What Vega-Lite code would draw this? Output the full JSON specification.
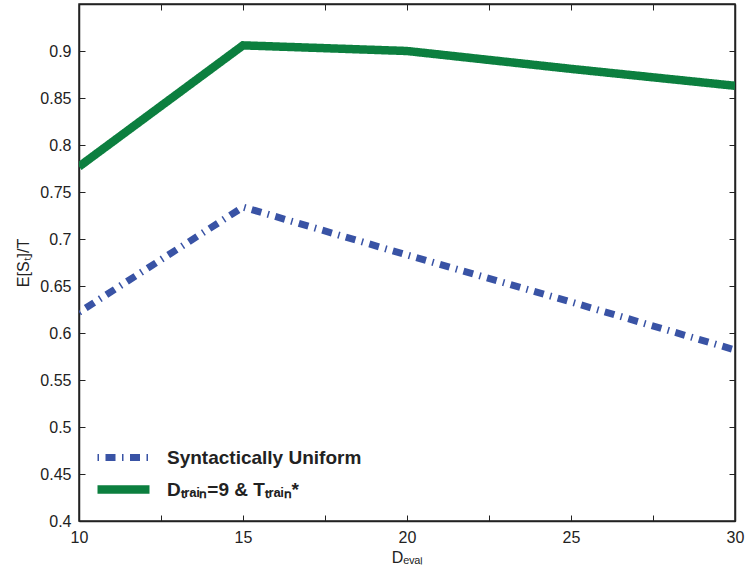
{
  "$schema": "https://vega.github.io/schema/vega-lite/v6.json",
  "width": 656,
  "height": 517,
  "autosize": {"type": "none"},
  "padding": {"left": 79, "top": 4, "right": 11, "bottom": 53},
  "background": "white",
  "config": {
    "view": {"stroke": "#222", "strokeWidth": 1.5},
    "font": "Liberation Sans",
    "axis": {"grid": false, "domainColor": "#222", "domainWidth": 1.5, "tickColor": "#222", "tickWidth": 1, "labelColor": "#222", "labelFontSize": 16, "labelFont": "Liberation Sans", "titleFont": "Liberation Sans", "titleFontWeight": "normal", "titleFontSize": 16, "titleColor": "#222", "labelFlush": false},
    "legend": {"orient": "bottom-left", "offset": 14, "symbolType": "M-1,0H3", "symbolSize": 676, "labelFontSize": 19, "labelFontWeight": "bold", "labelColor": "#222", "labelFont": "Liberation Sans", "labelOffset": 39, "labelLimit": 400, "rowPadding": -4, "padding": 0}
  },
  "data": {"values": [
    {"D_eval": 10, "value": 0.622, "series": "Syntactically Uniform"},
    {"D_eval": 15, "value": 0.734, "series": "Syntactically Uniform"},
    {"D_eval": 20, "value": 0.683, "series": "Syntactically Uniform"},
    {"D_eval": 25, "value": 0.633, "series": "Syntactically Uniform"},
    {"D_eval": 30, "value": 0.582, "series": "Syntactically Uniform"},
    {"D_eval": 10, "value": 0.777, "series": "Dₜᵣₐᵢₙ=9 & Tₜᵣₐᵢₙ*"},
    {"D_eval": 15, "value": 0.906, "series": "Dₜᵣₐᵢₙ=9 & Tₜᵣₐᵢₙ*"},
    {"D_eval": 20, "value": 0.900, "series": "Dₜᵣₐᵢₙ=9 & Tₜᵣₐᵢₙ*"},
    {"D_eval": 25, "value": 0.881, "series": "Dₜᵣₐᵢₙ=9 & Tₜᵣₐᵢₙ*"},
    {"D_eval": 30, "value": 0.863, "series": "Dₜᵣₐᵢₙ=9 & Tₜᵣₐᵢₙ*"}
  ]},
  "layer": [
    {
      "mark": {"type": "line", "clip": true, "strokeCap": "butt", "strokeJoin": "miter"},
      "encoding": {
        "x": {"field": "D_eval", "type": "quantitative", "scale": {"domain": [10, 30], "nice": false, "zero": false},
          "axis": {"orient": "bottom", "values": [10, 12.5, 15, 17.5, 20, 22.5, 25, 27.5, 30], "labelExpr": "datum.value % 5 == 0 ? datum.label : ''", "tickSize": -6, "labelPadding": 14, "title": "Dₑᵥₐₗ", "titlePadding": 4}},
        "y": {"field": "value", "type": "quantitative", "scale": {"domain": [0.4, 0.95], "nice": false, "zero": false},
          "axis": {"orient": "left", "values": [0.4, 0.45, 0.5, 0.55, 0.6, 0.65, 0.7, 0.75, 0.8, 0.85, 0.9], "format": ".2~f", "tickSize": -6, "labelPadding": 14, "title": "E[Sₜ]/T", "titlePadding": 8}},
        "color": {"field": "series", "type": "ordinal", "title": null, "scale": {"domain": ["Syntactically Uniform", "Dₜᵣₐᵢₙ=9 & Tₜᵣₐᵢₙ*"], "range": ["#3953a5", "#0c7f3f"]}},
        "strokeDash": {"field": "series", "type": "ordinal", "title": null, "scale": {"domain": ["Syntactically Uniform", "Dₜᵣₐᵢₙ=9 & Tₜᵣₐᵢₙ*"], "range": [[1.5, 6.5, 10, 6.5], [1, 0]]}},
        "strokeWidth": {"field": "series", "type": "ordinal", "title": null, "scale": {"domain": ["Syntactically Uniform", "Dₜᵣₐᵢₙ=9 & Tₜᵣₐᵢₙ*"], "range": [7, 8.5]}}
      }
    },
    {
      "mark": {"type": "line", "opacity": 0},
      "encoding": {
        "x": {"field": "D_eval", "type": "quantitative", "axis": {"orient": "top", "values": [10, 12.5, 15, 17.5, 20, 22.5, 25, 27.5, 30], "labels": false, "tickSize": -6, "title": null}},
        "y": {"field": "value", "type": "quantitative", "axis": {"orient": "right", "values": [0.4, 0.45, 0.5, 0.55, 0.6, 0.65, 0.7, 0.75, 0.8, 0.85, 0.9], "labels": false, "tickSize": -6, "title": null}}
      }
    }
  ],
  "resolve": {"axis": {"x": "independent", "y": "independent"}}
}
